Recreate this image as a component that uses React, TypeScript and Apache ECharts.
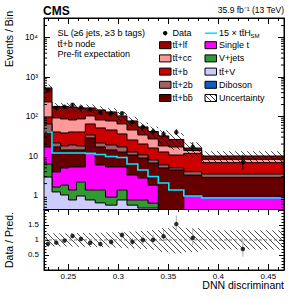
import React, { useEffect, useRef } from "react";
import * as echarts from "echarts";

const FONT = "'Liberation Sans', Arial, Helvetica, sans-serif";

// ---------------- data ----------------
const binEdges = [0.2257, 0.2337, 0.2422, 0.2502, 0.2582, 0.267, 0.2769, 0.2872, 0.2987, 0.3087, 0.3195, 0.3297, 0.34, 0.3505, 0.3655, 0.3834, 0.4657];

const diboson = [0.03, 0.01, 0.01, 0.01, 0.01, 0.01, 0.01, 0.01, 0.01, 0.01, 0.01, 0.01, 0.01, 0.01, 0.01, 0.01];
const ttV = [2.9, 1.22, 1.02, 0.76, 0.96, 0.76, 0.64, 0.56, 0.76, 0.56, 0.47, 0.47, 0.2, 0.2, 0.1, 0.1];
const vJets = [3.33, 0.41, 0.81, 0.61, 1.23, 0.61, 0.73, 0.34, 0.61, 0.2, 0.29, 0.16, 0.1, 0.1, 0.05, 0.05];
const singleT = [10.6, 2.3, 3.13, 3.89, 3.07, 10.5, 4.54, 4.35, 3.89, 2.53, 2.0, 1.19, 0.1, 0.1, 0.86, 0.8];
const ttbb = [24.8, 12.96, 9.23, 8.93, 8.93, 16.7, 11.0, 8.93, 7.33, 7.3, 6.13, 4.81, 4.57, 4.02, 2.27, 1.92];
const tt2b = [22.9, 4.4, 3.7, 4.8, 3.7, 5.4, 4.4, 4.8, 4.3, 2.0, 1.7, 1.27, 0.95, 0.55, 0.7, 0.61];
const ttb = [32.5, 19.2, 20.3, 21.5, 22.6, 30.6, 29.9, 26.5, 19.2, 12.8, 9.5, 8.0, 6.7, 5.6, 7.6, 3.27];
const ttcc = [135.7, 51.1, 48.2, 41.0, 45.9, 38.5, 30.3, 31.4, 28.5, 20.1, 13.9, 11.0, 5.3, 6.3, 2.2, 1.48];
const ttlf = [293.8, 87.5, 92.7, 92.5, 77.6, 60.9, 64.6, 53.1, 38.5, 31.4, 20.2, 14.8, 14.2, 9.3, 2.1, 1.75];

const ttH15 = [40.5, 11.9, 11.9, 11.9, 11.9, 11.6, 10.9, 9.71, 9.16, 6.27, 4.42, 3.03, 2.07, 1.38, 0.97, 0.865];
const dataCounts = [458, 163, 176, 197, 169, 149, 126, 121, 120, 72, 54, 42, 36, 40, 17, 7];
const relUnc = [0.22, 0.22, 0.22, 0.22, 0.23, 0.23, 0.24, 0.25, 0.26, 0.28, 0.3, 0.33, 0.4, 0.45, 0.4, 0.32];

const xTickLabels = ["0.25", "0.3", "0.35", "0.4", "0.45"];
const yTickValues = [1, 10, 100, 1000, 10000];
const yTickLabels = ["1", "10", "10²", "10³", "10⁴"];
const ratioTickLabels = ["0.5", "1", "1.5"];

const layerNames = ["Diboson", "tt̄+V", "V+jets", "Single t", "tt̄+bb̄", "tt̄+2b", "tt̄+b", "tt̄+cc̄", "tt̄+lf"];
const layerValues = [diboson, ttV, vJets, singleT, ttbb, tt2b, ttb, ttcc, ttlf];
const layerColors = ["#0a5fc4", "#ccccff", "#339933", "#ff00ff", "#660000", "#9e6363", "#cc0000", "#ff9999", "#990000"];

// ---------------- layout ----------------
const XMIN = binEdges[0];
const XMAX = binEdges[binEdges.length - 1];
const YMIN = 0.455;
const YMAX = 31000;
const RMIN = 0;
const RMAX = 2.03;
const GL = 44, GW = 240, GT1 = 18, GH1 = 191, GT2 = 209, GH2 = 61;

const NB = binEdges.length - 1;
const centers = binEdges.slice(0, NB).map((e, i) => (e + binEdges[i + 1]) / 2);
const cumul: number[][] = [];
layerValues.forEach((vals, li) => {
  cumul.push(vals.map((v, i) => v + (li > 0 ? cumul[li - 1][i] : 0)));
});
const totals = cumul[cumul.length - 1];

function poissonLow(n: number) {
  if (n <= 0) return 0;
  return n * Math.pow(1 - 1 / (9 * n) - 1 / (3 * Math.sqrt(n)), 3);
}
function poissonHigh(n: number) {
  const m = n + 1;
  return m * Math.pow(1 - 1 / (9 * m) + 1 / (3 * Math.sqrt(m)), 3);
}

function hatchSegs(x0: number, x1: number, y0: number, y1: number, s: number) {
  const out: number[][] = [];
  const ks = Math.ceil((y0 - x1) / s), ke = Math.floor((y1 - x0) / s);
  for (let k = ks; k <= ke; k++) {
    const c = k * s;
    const xa = Math.max(x0, y0 - c), xb = Math.min(x1, y1 - c);
    if (xb > xa) out.push([xa, xa + c, xb, xb + c]);
  }
  return out;
}

function hatchGroup(x0: number, x1: number, y0: number, y1: number, s: number, w: number) {
  return {
    type: "group",
    children: hatchSegs(x0, x1, Math.min(y0, y1), Math.max(y0, y1), s).map((g) => ({
      type: "line",
      shape: { x1: g[0], y1: g[1], x2: g[2], y2: g[3] },
      style: { stroke: "#000", lineWidth: w },
    })),
  };
}

function annotationChildren() {
  const rows = [33.2, 45.2, 58.4, 71.6, 84.8, 98];
  const c1Box = 159.5, c1Text = 172.5, c2Box = 205, c2Text = 219;
  const txt = (x: number, y: number, text: string, size = 9) => ({
    type: "text",
    x,
    y,
    style: { text, fill: "#000", fontFamily: FONT, fontSize: size, verticalAlign: "middle", align: "left" },
  });
  const box = (x: number, y: number, color: string) => ({
    type: "rect",
    shape: { x, y: y - 3.5, width: 11.5, height: 7 },
    style: { fill: color, stroke: "#000", lineWidth: 1 },
  });
  const col1 = [8, 7, 6, 5, 4];
  const col2 = [3, 2, 1, 0];
  const ch: any[] = [
    { type: "text", x: 43, y: 10.5, style: { text: "CMS", fill: "#000", fontFamily: FONT, fontSize: 12, fontWeight: "bold", verticalAlign: "middle", align: "left" } },
    txt(57.5, 33.3, "SL (≥6 jets, ≥3 b tags)"),
    txt(57.5, 43.8, "tt̄+b node"),
    txt(57.5, 54, "Pre-fit expectation"),
    { type: "circle", shape: { cx: 165.2, cy: rows[0], r: 2.2 }, style: { fill: "#000" } },
    txt(c1Text, rows[0], "Data"),
    { type: "line", shape: { x1: c2Box, y1: rows[0], x2: c2Box + 12, y2: rows[0] }, style: { stroke: "#00e8ff", lineWidth: 1.6 } },
    txt(c2Text, rows[0], "15 × tt̄H"),
    txt(c2Text + 31.5, rows[0] + 2.5, "SM", 6),
  ];
  col1.forEach((li, k) => {
    ch.push(box(c1Box, rows[k + 1], layerColors[li]));
    ch.push(txt(c1Text, rows[k + 1], layerNames[li]));
  });
  col2.forEach((li, k) => {
    ch.push(box(c2Box, rows[k + 1], layerColors[li]));
    ch.push(txt(c2Text, rows[k + 1], layerNames[li]));
  });
  const uy = rows[5];
  ch.push({ type: "rect", shape: { x: c2Box, y: uy - 3.5, width: 11.5, height: 7 }, style: { fill: "#fff", stroke: "#000", lineWidth: 1 } });
  ch.push(hatchGroup(c2Box, c2Box + 11.5, uy - 3.5, uy + 3.5, 5, 0.8));
  ch.push(txt(c2Text, uy, "Uncertainty"));
  return ch;
}

function buildOption() {
  const tickStyle = { color: "#000", width: 1 };
  const mkX = (grid: number, pos: string, labels: boolean, len: number) => ({
    type: "value",
    gridIndex: grid,
    position: pos,
    min: XMIN,
    max: XMAX,
    axisLine: { show: true, onZero: false, lineStyle: tickStyle },
    axisTick: { show: true, inside: true, length: len, lineStyle: tickStyle },
    minorTick: { show: true, splitNumber: 5, length: len / 2, lineStyle: tickStyle },
    splitLine: { show: false },
    axisLabel: {
      show: labels,
      margin: 2,
      fontSize: 8,
      color: "#000",
      fontFamily: FONT,
      formatter: (v: number) => {
        const s = String(parseFloat(v.toFixed(4)));
        return xTickLabels.includes(s) ? s : "";
      },
      showMinLabel: false,
      showMaxLabel: false,
    },
  });
  const mkLogY = (pos: string, labels: boolean) => ({
    type: "log",
    logBase: 10,
    gridIndex: 0,
    position: pos,
    min: YMIN,
    max: YMAX,
    axisLine: { show: true, onZero: false, lineStyle: tickStyle },
    axisTick: { show: true, inside: true, length: 6, lineStyle: tickStyle },
    splitLine: { show: false },
    axisLabel: {
      show: labels,
      margin: 6,
      fontSize: 8.5,
      color: "#000",
      fontFamily: FONT,
      formatter: (v: number) => {
        const i = yTickValues.findIndex((t) => Math.abs(v - t) / t < 1e-6);
        return i >= 0 ? yTickLabels[i] : "";
      },
    },
  });
  const mkRY = (pos: string, labels: boolean) => ({
    type: "value",
    gridIndex: 1,
    position: pos,
    min: RMIN,
    max: RMAX,
    interval: 0.5,
    axisLine: { show: true, onZero: false, lineStyle: tickStyle },
    axisTick: { show: true, inside: true, length: 5, lineStyle: tickStyle },
    minorTick: { show: true, splitNumber: 5, length: 2.5, lineStyle: tickStyle },
    splitLine: { show: false },
    axisLabel: {
      show: labels,
      margin: 5,
      fontSize: 8,
      color: "#000",
      fontFamily: FONT,
      formatter: (v: number) => {
        const s = String(parseFloat(v.toFixed(3)));
        return ratioTickLabels.includes(s) ? s : "";
      },
    },
  });

  const logMinor: number[][] = [];
  for (let e = -1; e <= 4; e++) {
    for (let k = 2; k <= 9; k++) {
      const v = k * Math.pow(10, e);
      if (v > YMIN && v < YMAX) logMinor.push([XMIN, v]);
    }
  }

  const stackOrder = layerValues.map((_, i) => layerValues.length - 1 - i);

  const series: any[] = [
    {
      type: "custom",
      xAxisIndex: 0,
      yAxisIndex: 0,
      clip: true,
      z: 2,
      silent: true,
      data: stackOrder.map((li) => [XMIN, YMIN, li]),
      renderItem: (_p: any, api: any) => {
        const li = api.value(2);
        const c = cumul[li];
        const pts: number[][] = [];
        for (let i = 0; i < NB; i++) {
          const v = Math.max(c[i], YMIN * 0.5);
          pts.push(api.coord([binEdges[i], v]));
          pts.push(api.coord([binEdges[i + 1], v]));
        }
        pts.push(api.coord([XMAX, YMIN * 0.5]));
        pts.push(api.coord([XMIN, YMIN * 0.5]));
        return {
          type: "polygon",
          shape: { points: pts },
          style: { fill: layerColors[li], stroke: "#000", lineWidth: 1 },
        };
      },
    },
    {
      type: "custom",
      xAxisIndex: 0,
      yAxisIndex: 0,
      clip: true,
      z: 3,
      silent: true,
      data: centers.map((c, i) => [c, totals[i], i]),
      renderItem: (_p: any, api: any) => {
        const i = api.value(2);
        const a = api.coord([binEdges[i], totals[i] * (1 + relUnc[i])]);
        const b = api.coord([binEdges[i + 1], totals[i] * (1 - relUnc[i])]);
        return hatchGroup(a[0], b[0], a[1], b[1], 6, 0.7);
      },
    },
    {
      type: "custom",
      xAxisIndex: 0,
      yAxisIndex: 0,
      clip: true,
      z: 4,
      silent: true,
      data: [[XMIN, YMIN]],
      renderItem: (_p: any, api: any) => {
        const pts: number[][] = [];
        for (let i = 0; i < NB; i++) {
          pts.push(api.coord([binEdges[i], ttH15[i]]));
          pts.push(api.coord([binEdges[i + 1], ttH15[i]]));
        }
        return {
          type: "polyline",
          shape: { points: pts },
          style: { stroke: "#00e8ff", lineWidth: 1.6, fill: null },
        };
      },
    },
    {
      type: "custom",
      xAxisIndex: 0,
      yAxisIndex: 0,
      clip: true,
      z: 5,
      silent: true,
      data: centers.map((c, i) => [c, dataCounts[i], i]),
      renderItem: (_p: any, api: any) => {
        const i = api.value(2);
        const n = dataCounts[i];
        const a = api.coord([centers[i], poissonHigh(n)]);
        const b = api.coord([centers[i], Math.max(poissonLow(n), YMIN * 0.5)]);
        return {
          type: "line",
          shape: { x1: a[0], y1: a[1], x2: b[0], y2: b[1] },
          style: { stroke: "#000", lineWidth: 1 },
        };
      },
    },
    {
      type: "scatter",
      xAxisIndex: 0,
      yAxisIndex: 0,
      z: 6,
      silent: true,
      symbol: "circle",
      symbolSize: 4.5,
      itemStyle: { color: "#000" },
      data: centers.map((c, i) => [c, dataCounts[i]]),
    },
    {
      type: "custom",
      xAxisIndex: 0,
      yAxisIndex: 0,
      clip: false,
      z: 7,
      silent: true,
      data: logMinor,
      renderItem: (_p: any, api: any) => {
        const v = api.value(1);
        const l = api.coord([XMIN, v]);
        const r = api.coord([XMAX, v]);
        return {
          type: "group",
          children: [
            { type: "line", shape: { x1: l[0], y1: l[1], x2: l[0] + 3, y2: l[1] }, style: { stroke: "#000", lineWidth: 1 } },
            { type: "line", shape: { x1: r[0] - 3, y1: r[1], x2: r[0], y2: r[1] }, style: { stroke: "#000", lineWidth: 1 } },
          ],
        };
      },
    },
    {
      type: "custom",
      xAxisIndex: 0,
      yAxisIndex: 0,
      clip: false,
      z: 20,
      silent: true,
      data: [[XMIN, YMIN]],
      renderItem: () => ({ type: "group", children: annotationChildren() }),
    },
    // ratio panel
    {
      type: "custom",
      xAxisIndex: 2,
      yAxisIndex: 2,
      clip: true,
      z: 3,
      silent: true,
      data: centers.map((c, i) => [c, 1, i]),
      renderItem: (_p: any, api: any) => {
        const i = api.value(2);
        const a = api.coord([binEdges[i], 1 + relUnc[i]]);
        const b = api.coord([binEdges[i + 1], 1 - relUnc[i]]);
        return hatchGroup(a[0], b[0], a[1], b[1], 6, 0.7);
      },
    },
    {
      type: "line",
      xAxisIndex: 2,
      yAxisIndex: 2,
      z: 4,
      silent: true,
      symbol: "none",
      lineStyle: { color: "#777", width: 1, type: [3, 2] },
      data: [[XMIN, 1], [XMAX, 1]],
    },
    {
      type: "custom",
      xAxisIndex: 2,
      yAxisIndex: 2,
      clip: true,
      z: 5,
      silent: true,
      data: centers.map((c, i) => [c, dataCounts[i] / totals[i], i]),
      renderItem: (_p: any, api: any) => {
        const i = api.value(2);
        const n = dataCounts[i];
        const a = api.coord([centers[i], poissonHigh(n) / totals[i]]);
        const b = api.coord([centers[i], poissonLow(n) / totals[i]]);
        return {
          type: "line",
          shape: { x1: a[0], y1: a[1], x2: b[0], y2: b[1] },
          style: { stroke: "#aaa", lineWidth: 1 },
        };
      },
    },
    {
      type: "scatter",
      xAxisIndex: 2,
      yAxisIndex: 2,
      z: 6,
      silent: true,
      symbol: "circle",
      symbolSize: 4.5,
      itemStyle: { color: "#000" },
      data: centers.map((c, i) => [c, dataCounts[i] / totals[i]]),
    },
  ];

  const graphic: any[] = [
    { type: "text", x: 284, y: 14.5, silent: true, style: { text: "35.9 fb⁻¹ (13 TeV)", fill: "#000", fontFamily: FONT, fontSize: 8.5, verticalAlign: "bottom", align: "right" } },
    { type: "text", x: 9, y: 11, rotation: Math.PI / 2, silent: true, style: { text: "Events / Bin", fill: "#000", fontFamily: FONT, fontSize: 10.5, align: "right", verticalAlign: "middle" } },
    { type: "text", x: 8.5, y: 240, rotation: Math.PI / 2, silent: true, style: { text: "Data / Pred.", fill: "#000", fontFamily: FONT, fontSize: 10.5, align: "center", verticalAlign: "middle" } },
    { type: "text", x: 284, y: 285.3, silent: true, style: { text: "DNN discriminant", fill: "#000", fontFamily: FONT, fontSize: 10.5, align: "right", verticalAlign: "middle" } },
  ];

  return {
    animation: false,
    backgroundColor: "#fff",
    textStyle: { fontFamily: FONT },
    grid: [
      { left: GL, top: GT1, width: GW, height: GH1, show: true, borderColor: "#000", borderWidth: 1, backgroundColor: "transparent" },
      { left: GL, top: GT2, width: GW, height: GH2, show: true, borderColor: "#000", borderWidth: 1, backgroundColor: "transparent" },
    ],
    xAxis: [mkX(0, "bottom", false, 6), mkX(0, "top", false, 6), mkX(1, "bottom", true, 6), mkX(1, "top", false, 6)],
    yAxis: [mkLogY("left", true), mkLogY("right", false), mkRY("left", true), mkRY("right", false)],
    series,
    graphic,
  };
}

export default function App() {
  const ref = useRef<HTMLDivElement>(null);
  useEffect(() => {
    const el = ref.current;
    if (!el) return;
    const chart = echarts.init(el, null, { renderer: "svg" });
    chart.setOption(buildOption() as any);
    return () => chart.dispose();
  }, []);
  return <div ref={ref} style={{ position: "fixed", left: 0, top: 0, width: 291, height: 300 }} />;
}
